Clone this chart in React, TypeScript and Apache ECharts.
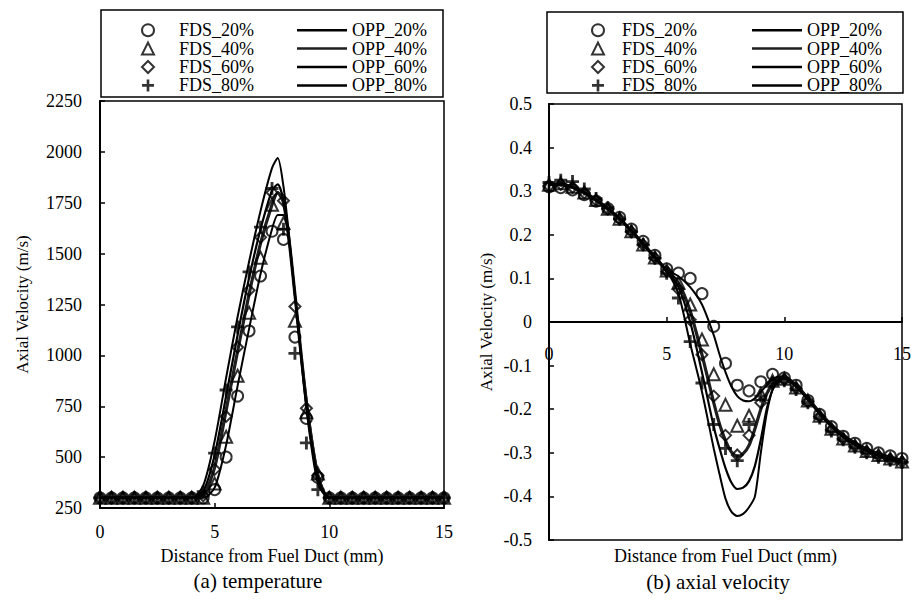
import React, { useEffect, useRef } from "react";
import * as echarts from "echarts";

const FONT = "Liberation Serif";

// ---------- shared ----------
const fdsNames = ["FDS_20%", "FDS_40%", "FDS_60%", "FDS_80%"];
const oppNames = ["OPP_20%", "OPP_40%", "OPP_60%", "OPP_80%"];
const xTicks = [0, 5, 10, 15];

// FDS sample positions (mm)
const fdsX = [0, 0.5, 1, 1.5, 2, 2.5, 3, 3.5, 4, 4.5, 5, 5.5, 6, 6.5, 7, 7.5, 8, 8.5, 9, 9.5, 10, 10.5, 11, 11.5, 12, 12.5, 13, 13.5, 14, 14.5, 15];

// ---------- (a) temperature ----------
const tempFDS20 = [300, 300, 300, 300, 300, 300, 300, 300, 300, 300, 340, 500, 800, 1120, 1390, 1610, 1570, 1090, 690, 400, 300, 300, 300, 300, 300, 300, 300, 300, 300, 300, 300];
const tempFDS40 = [300, 300, 300, 300, 300, 300, 300, 300, 300, 300, 370, 600, 900, 1210, 1480, 1740, 1650, 1170, 720, 420, 300, 300, 300, 300, 300, 300, 300, 300, 300, 300, 300];
const tempFDS60 = [300, 300, 300, 300, 300, 300, 300, 300, 300, 310, 440, 700, 1040, 1320, 1580, 1800, 1760, 1240, 740, 410, 300, 300, 300, 300, 300, 300, 300, 300, 300, 300, 300];
const tempFDS80 = [300, 300, 300, 300, 300, 300, 300, 300, 300, 330, 520, 830, 1140, 1410, 1630, 1820, 1620, 1010, 570, 340, 300, 300, 300, 300, 300, 300, 300, 300, 300, 300, 300];

const tempOppX = [0, 1, 2, 3, 4, 4.5, 5, 5.5, 6, 6.5, 7, 7.5, 7.75, 8, 8.25, 8.5, 9, 9.5, 10, 11, 12, 13, 14, 15];
const tempOPP20 = [300, 300, 300, 300, 300, 300, 350, 560, 850, 1130, 1400, 1620, 1690, 1690, 1560, 1290, 790, 420, 300, 300, 300, 300, 300, 300];
const tempOPP40 = [300, 300, 300, 300, 300, 310, 450, 730, 1020, 1300, 1550, 1740, 1800, 1750, 1560, 1300, 770, 410, 300, 300, 300, 300, 300, 300];
const tempOPP60 = [300, 300, 300, 300, 300, 330, 510, 800, 1100, 1380, 1620, 1810, 1840, 1760, 1560, 1300, 760, 400, 300, 300, 300, 300, 300, 300];
const tempOPP80 = [300, 300, 300, 300, 300, 360, 580, 890, 1190, 1460, 1710, 1920, 1970, 1830, 1580, 1300, 740, 370, 300, 300, 300, 300, 300, 300];
const tempYTicks = [250, 500, 750, 1000, 1250, 1500, 1750, 2000, 2250];

// ---------- (b) axial velocity ----------
const velFDS20 = [0.31, 0.308, 0.303, 0.292, 0.277, 0.26, 0.24, 0.213, 0.185, 0.153, 0.122, 0.112, 0.1, 0.065, -0.01, -0.095, -0.145, -0.158, -0.137, -0.12, -0.128, -0.145, -0.18, -0.212, -0.24, -0.262, -0.278, -0.29, -0.3, -0.307, -0.313];
const velFDS40 = [0.315, 0.318, 0.31, 0.297, 0.28, 0.26, 0.237, 0.208, 0.178, 0.148, 0.118, 0.09, 0.04, -0.04, -0.12, -0.19, -0.238, -0.215, -0.165, -0.135, -0.13, -0.15, -0.18, -0.215, -0.245, -0.267, -0.283, -0.296, -0.305, -0.313, -0.32];
const velFDS60 = [0.312, 0.316, 0.309, 0.296, 0.279, 0.259, 0.236, 0.207, 0.177, 0.147, 0.116, 0.075, 0.005, -0.075, -0.17, -0.26, -0.305, -0.26, -0.185, -0.14, -0.132, -0.152, -0.182, -0.217, -0.247, -0.268, -0.285, -0.298, -0.307, -0.315, -0.321];
const velFDS80 = [0.32, 0.325, 0.322, 0.305, 0.283, 0.262, 0.236, 0.207, 0.177, 0.146, 0.112, 0.055, -0.045, -0.14, -0.235, -0.29, -0.318, -0.235, -0.17, -0.14, -0.135, -0.155, -0.185, -0.22, -0.25, -0.27, -0.287, -0.3, -0.31, -0.317, -0.322];

const velOppX = [0, 0.5, 1, 1.5, 2, 2.5, 3, 3.5, 4, 4.5, 5, 5.5, 6, 6.5, 7, 7.25, 7.5, 7.75, 8, 8.25, 8.5, 8.75, 9, 9.25, 9.5, 9.75, 10, 10.5, 11, 11.5, 12, 12.5, 13, 13.5, 14, 14.5, 15];
const velOPP20 = [0.315, 0.314, 0.307, 0.295, 0.278, 0.259, 0.237, 0.21, 0.181, 0.151, 0.121, 0.105, 0.08, 0.04, -0.03, -0.075, -0.115, -0.148, -0.17, -0.18, -0.182, -0.175, -0.16, -0.145, -0.132, -0.125, -0.125, -0.143, -0.173, -0.205, -0.234, -0.258, -0.276, -0.29, -0.301, -0.309, -0.316];
const velOPP40 = [0.315, 0.316, 0.309, 0.297, 0.28, 0.26, 0.237, 0.209, 0.179, 0.148, 0.117, 0.09, 0.025, -0.075, -0.185, -0.235, -0.272, -0.298, -0.308, -0.302, -0.283, -0.245, -0.2, -0.165, -0.142, -0.13, -0.127, -0.146, -0.176, -0.209, -0.238, -0.262, -0.28, -0.294, -0.305, -0.313, -0.32];
const velOPP60 = [0.315, 0.316, 0.309, 0.297, 0.28, 0.26, 0.237, 0.209, 0.179, 0.148, 0.117, 0.08, 0.0, -0.115, -0.24, -0.29, -0.335, -0.368, -0.383, -0.38, -0.365, -0.33, -0.27, -0.2, -0.155, -0.133, -0.128, -0.147, -0.177, -0.21, -0.239, -0.263, -0.281, -0.295, -0.306, -0.314, -0.321];
const velOPP80 = [0.315, 0.316, 0.309, 0.297, 0.28, 0.26, 0.237, 0.209, 0.179, 0.148, 0.117, 0.065, -0.05, -0.16, -0.29, -0.35, -0.405, -0.435, -0.445, -0.44, -0.425, -0.4, -0.3, -0.21, -0.155, -0.135, -0.13, -0.148, -0.178, -0.211, -0.24, -0.264, -0.282, -0.296, -0.307, -0.315, -0.322];
const velYTicks = [-0.5, -0.4, -0.3, -0.2, -0.1, 0, 0.1, 0.2, 0.3, 0.4, 0.5];

const PLUS = "path://M3.9,0H6.1V3.9H10V6.1H6.1V10H3.9V6.1H0V3.9H3.9Z";
const markerSymbols = ["circle", "triangle", "diamond", PLUS];
const oppWidths = [2, 3.2, 2.2, 2];
const oppColors = ["#000", "#1e1e1e", "#000", "#000"];

function pairs(xs: number[], ys: number[]) {
  return xs.map((x, i) => [x, ys[i]]);
}

function buildSeries(gridIdx: number, fds: number[][], opp: number[][], oppX: number[]) {
  const s: any[] = [];
  opp.forEach((ys, i) => {
    s.push({
      type: "line",
      name: oppNames[i],
      xAxisIndex: gridIdx,
      yAxisIndex: gridIdx,
      data: pairs(oppX, ys),
      symbol: "none",
      showSymbol: false,
      smooth: 0.25,
      lineStyle: { color: oppColors[i], width: oppWidths[i] },
      itemStyle: { color: oppColors[i] },
      z: 2,
    });
  });
  fds.forEach((ys, i) => {
    const isPlus = i === 3;
    s.push({
      type: "scatter",
      name: fdsNames[i],
      xAxisIndex: gridIdx,
      yAxisIndex: gridIdx,
      data: pairs(fdsX, ys),
      symbol: markerSymbols[i],
      symbolSize: isPlus ? 13 : i === 1 ? 12 : 11,
      itemStyle: isPlus
        ? { color: "#000", borderWidth: 0 }
        : { color: "rgba(255,255,255,0)", borderColor: "#000", borderWidth: 2 },
      z: 3,
    });
  });
  return s;
}

const labelStyle = { fontFamily: FONT, fontSize: 18, color: "#000" };

function legendPair(symLeft: number, textPad: number, lineLeft: number) {
  return [
    {
      orient: "vertical",
      left: symLeft,
      top: 16,
      itemWidth: 12,
      itemHeight: 12,
      itemGap: 0,
      data: fdsNames,
      selectedMode: false,
      textStyle: { ...labelStyle, lineHeight: 18.4, padding: [0, 0, 0, textPad] },
    },
    {
      orient: "vertical",
      left: lineLeft,
      top: 16,
      itemWidth: 50,
      itemHeight: 2.5,
      itemGap: 0,
      icon: "rect",
      data: oppNames,
      selectedMode: false,
      textStyle: { ...labelStyle, lineHeight: 18.4 },
    },
  ];
}

export default function App() {
  const ref = useRef<HTMLDivElement>(null);
  useEffect(() => {
    if (!ref.current) return;
    const chart = echarts.init(ref.current, undefined, { renderer: "svg" });
    const axisLine = { lineStyle: { color: "#000", width: 2 } };
    const tick = { inside: true, length: 5, lineStyle: { color: "#000", width: 1.5 } };
    const option: any = {
      animation: false,
      backgroundColor: "#fff",
      textStyle: { fontFamily: FONT },
      grid: [
        { left: 100, top: 101, width: 344, height: 407, show: true, borderColor: "#000", borderWidth: 1.5, backgroundColor: "transparent" },
        { left: 549, top: 104, width: 355, height: 436, show: true, borderColor: "#000", borderWidth: 1.5, backgroundColor: "transparent" },
      ],
      xAxis: [
        {
          gridIndex: 0, type: "value", min: xTicks[0], max: xTicks[xTicks.length - 1], interval: 5,
          axisLine: { ...axisLine, onZero: false }, axisTick: tick, splitLine: { show: false },
          axisLabel: { ...labelStyle, margin: 15 },
          name: "Distance from Fuel Duct (mm)", nameLocation: "middle", nameGap: 39,
          nameTextStyle: { ...labelStyle },
        },
        {
          gridIndex: 1, type: "value", min: xTicks[0], max: xTicks[xTicks.length - 1], interval: 5,
          position: "bottom", offset: -218,
          axisLine: { ...axisLine, onZero: false }, axisTick: tick, splitLine: { show: false },
          axisLabel: { ...labelStyle, margin: 23 },
        },
        {
          gridIndex: 1, type: "value", min: 0, max: 15, position: "bottom",
          axisLine: { show: false, onZero: false }, axisTick: { show: false }, axisLabel: { show: false },
          splitLine: { show: false },
          name: "Distance from Fuel Duct (mm)", nameLocation: "middle", nameGap: 7,
          nameTextStyle: { ...labelStyle },
        },
      ],
      yAxis: [
        {
          gridIndex: 0, type: "value", min: tempYTicks[0], max: tempYTicks[tempYTicks.length - 1], interval: 250,
          axisLine: { ...axisLine, onZero: false }, axisTick: tick, splitLine: { show: false },
          axisLabel: { ...labelStyle, margin: 18, formatter: (v: number) => String(v) },
          name: "Axial Velocity (m/s)", nameLocation: "middle", nameGap: 69,
          nameTextStyle: { ...labelStyle, fontSize: 17 },
        },
        {
          gridIndex: 1, type: "value", min: velYTicks[0], max: velYTicks[velYTicks.length - 1], interval: 0.1,
          axisLine: { ...axisLine, onZero: false }, axisTick: tick, splitLine: { show: false },
          axisLabel: { ...labelStyle, margin: 17, formatter: (v: number) => String(Math.round(v * 10) / 10) },
          name: "Axial Velocity (m/s)", nameLocation: "middle", nameGap: 54,
          nameTextStyle: { ...labelStyle, fontSize: 17 },
        },
      ],
      legend: [...legendPair(136, 20, 292), ...legendPair(586, 13, 747)],
      graphic: [
        { type: "rect", shape: { x: 101, y: 10, width: 342, height: 87 }, style: { fill: "none", stroke: "#000", lineWidth: 1.5 }, z: -1 },
        { type: "rect", shape: { x: 547, y: 12, width: 356, height: 81 }, style: { fill: "none", stroke: "#000", lineWidth: 1.5 }, z: -1 },
        { type: "text", x: 258, y: 581, style: { text: "(a) temperature", fontFamily: FONT, fontSize: 21, fill: "#000", align: "center", verticalAlign: "middle" } },
        { type: "text", x: 718, y: 582, style: { text: "(b) axial velocity", fontFamily: FONT, fontSize: 21, fill: "#000", align: "center", verticalAlign: "middle" } },
      ],
      series: [
        ...buildSeries(0, [tempFDS20, tempFDS40, tempFDS60, tempFDS80], [tempOPP20, tempOPP40, tempOPP60, tempOPP80], tempOppX),
        ...buildSeries(1, [velFDS20, velFDS40, velFDS60, velFDS80], [velOPP20, velOPP40, velOPP60, velOPP80], velOppX),
      ],
    };
    chart.setOption(option);
    return () => chart.dispose();
  }, []);
  return (
    <div
      ref={ref}
      style={{ position: "absolute", left: 0, top: 0, width: 914, height: 603, background: "#fff" }}
    />
  );
}
